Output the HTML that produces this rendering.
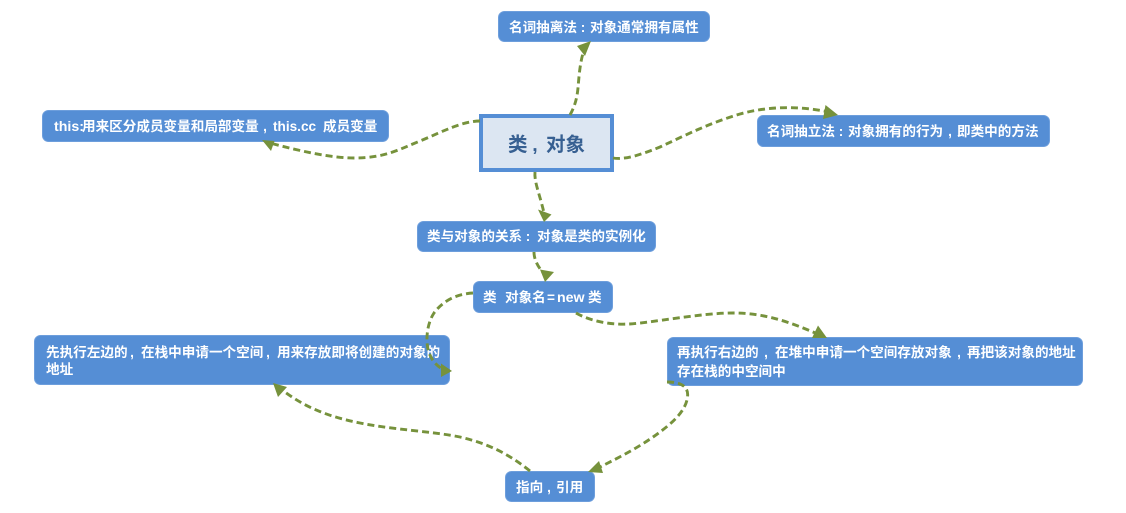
<!DOCTYPE html>
<html><head><meta charset="utf-8"><style>
html,body{margin:0;padding:0;background:#fff;width:1126px;height:513px;overflow:hidden}
svg{display:block}
text{font-family:"Liberation Sans","Noto Sans CJK SC",sans-serif;font-size:13.6px;font-weight:700;fill:#fff}
.n{fill:#558ed5;stroke:#6d9edc;stroke-width:1}
.c{fill:none;stroke:#76923c;stroke-width:2.9;stroke-dasharray:7 4}
.a{fill:#76923c}
.m{text-anchor:middle}
.l{font-size:14.2px}
.t{font-size:19.5px;fill:#376092}
</style></head><body>
<svg width="1126" height="513" viewBox="0 0 1126 513" xmlns="http://www.w3.org/2000/svg">
<rect class="n" x="498.5" y="11.5" width="211" height="30" rx="6"/>
<rect x="481" y="116" width="131" height="54" fill="#dce6f2" stroke="#558ed5" stroke-width="4"/>
<rect class="n" x="42.5" y="110.5" width="346" height="31" rx="6"/>
<rect class="n" x="757.5" y="115.5" width="292" height="31" rx="6"/>
<rect class="n" x="417.5" y="221.5" width="238" height="30" rx="6"/>
<rect class="n" x="473.5" y="281.5" width="139" height="31" rx="6"/>
<rect class="n" x="34.5" y="335.5" width="415" height="49" rx="6"/>
<rect class="n" x="667.5" y="337.5" width="415" height="48" rx="6"/>
<rect class="n" x="505.5" y="471.5" width="89" height="30" rx="6"/>

<text x="509" y="32">名词抽离法</text><text class="m" x="583" y="32">:</text><text x="590" y="32">对象通常拥有属性</text>
<text class="t" x="508" y="151">类</text><text class="m t" x="535" y="151">,</text><text class="t" x="546" y="151">对象</text>
<text class="l" x="54" y="131">this:</text><text x="82" y="131">用来区分成员变量和局部变量</text><text class="m" x="265" y="131">,</text><text x="273" y="131">this.cc</text><text x="323" y="131">成员变量</text>
<text x="767" y="136">名词抽立法</text><text class="m" x="841" y="136">:</text><text x="848" y="136">对象拥有的行为</text><text class="m" x="950" y="136">,</text><text x="957" y="136">即类中的方法</text>
<text x="427" y="241">类与对象的关系</text><text class="m" x="528" y="241">:</text><text x="537" y="241">对象是类的实例化</text>
<text x="483" y="302">类</text><text x="505" y="302">对象名</text><text x="547" y="302">=</text><text class="l" x="557" y="302">new</text><text x="588" y="302">类</text>
<text x="46" y="357">先执行左边的</text><text class="m" x="132" y="357">,</text><text x="141" y="357">在栈中申请一个空间</text><text class="m" x="268" y="357">,</text><text x="277" y="357">用来存放即将创建的对象的</text>
<text x="46" y="374">地址</text>
<text x="677" y="357">再执行右边的</text><text class="m" x="766" y="357">,</text><text x="775" y="357">在堆中申请一个空间存放对象</text><text class="m" x="959" y="357">,</text><text x="967" y="357">再把该对象的地址</text>
<text x="677" y="376">存在栈的中空间中</text>
<text x="516" y="492">指向</text><text class="m" x="549" y="492">,</text><text x="556" y="492">引用</text>

<path class="c" d="M570 115C575 106 577 98 578 88C579 76 580 62 584 50"/>
<polygon class="a" points="591,41 577,46 585,56"/>
<path class="c" d="M613 158C625 160 640 155 660 147C690 133 710 123 740 114C765 107 795 105 829 112"/>
<polygon class="a" points="838,115 825.5,105 823,119"/>
<path class="c" d="M480 121C462 121 442 132 420 141C400 149 385 158 355 158C330 158 300 151 270 143"/>
<polygon class="a" points="262,140 274.5,141 271,151"/>
<path class="c" d="M535 172C534 182 540 195 544 213"/>
<polygon class="a" points="544,222 538,209.5 551.5,214.5"/>
<path class="c" d="M534 252C534 260 538 267 545 275"/>
<polygon class="a" points="545,282 540,269.5 554,272"/>
<path class="c" d="M473 293C455 294 442 302 434 313C426 325 425 345 430 355C433 362 437 366 444 370"/>
<polygon class="a" points="452,371 441,363.5 441,377"/>
<path class="c" d="M576 313C590 321 610 325 629 324C650 323 700 313 733 313C765 313 790 322 820 335"/>
<polygon class="a" points="827,338 818,325.5 812,338"/>
<path class="c" d="M667 382C680 382 689 386 687.5 397C686 411 672 423 660 432C640 447 620 457 598 468"/>
<polygon class="a" points="588,472 599,461 603,473"/>
<path class="c" d="M530 471C510 455 490 444 460 437C430 431 395 430 360 423C330 417 305 408 281 389"/>
<polygon class="a" points="273,383 287,387 278,397"/>
</svg>
</body></html>
